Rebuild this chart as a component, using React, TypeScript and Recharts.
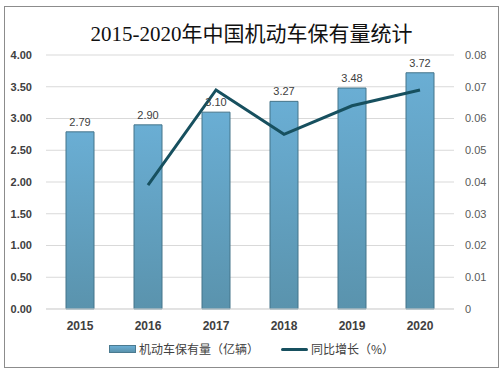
import {
  ComposedChart,
  Bar,
  Line,
  XAxis,
  YAxis,
  CartesianGrid,
  LabelList,
} from "recharts";

const years = ["2015", "2016", "2017", "2018", "2019", "2020"];
const vehicles = [2.79, 2.9, 3.1, 3.27, 3.48, 3.72];
const growth = [null, 0.039, 0.069, 0.055, 0.064, 0.069];
const leftTicks = [0, 0.5, 1, 1.5, 2, 2.5, 3, 3.5, 4];
const rightTicks = [0, 0.01, 0.02, 0.03, 0.04, 0.05, 0.06, 0.07, 0.08];

const data = years.map((year, i) => ({
  year,
  vehicles: vehicles[i],
  growth: growth[i],
}));

const FONT = "'Liberation Sans', 'Noto Sans CJK SC', sans-serif";

const LegendBox = () => (
  <div
    style={{
      position: "absolute",
      left: 0,
      top: 340,
      width: 503,
      display: "flex",
      justifyContent: "center",
      alignItems: "center",
      fontFamily: "'Noto Sans CJK SC', sans-serif",
      fontSize: 12,
      color: "#404040",
      lineHeight: "18px",
    }}
  >
    <span
      style={{
        display: "inline-block",
        width: 25,
        height: 6,
        background: "linear-gradient(#6aaed4, #5a93ad)",
        border: "1px solid #4a7a90",
        marginRight: 3,
      }}
    />
    <span style={{ marginRight: 22 }}>机动车保有量（亿辆）</span>
    <span
      style={{
        display: "inline-block",
        width: 27,
        height: 3,
        background: "#17505f",
        borderRadius: 2,
        marginRight: 3,
      }}
    />
    <span>同比增长（%）</span>
  </div>
);

export default function App() {
  return (
    <div
      style={{
        position: "absolute",
        left: 0,
        top: 0,
        width: 503,
        height: 372,
        background: "#fff",
      }}
    >
      <div
        style={{
          position: "absolute",
          left: 4,
          top: 6,
          width: 493,
          height: 360,
          border: "1px solid #8c8c8c",
        }}
      />
      <div
        style={{
          position: "absolute",
          left: 0,
          top: 17,
          width: 503,
          textAlign: "center",
          fontFamily: "'Liberation Serif', 'Noto Sans CJK SC', serif",
          fontSize: 21,
          color: "#111",
        }}
      >
        2015-2020年中国机动车保有量统计
      </div>
      <ComposedChart
        width={503}
        height={372}
        data={data}
        margin={{ top: 55, right: 0, bottom: 38, left: 6 }}
        style={{ position: "absolute", left: 0, top: 0 }}
      >
        <defs>
          <linearGradient id="barGrad" x1="0" y1="0" x2="0" y2="1">
            <stop offset="0%" stopColor="#6aaed4" />
            <stop offset="100%" stopColor="#5a93ad" />
          </linearGradient>
        </defs>
        <CartesianGrid vertical={false} stroke="#d9d9d9" yAxisId="left" />
        <XAxis
          dataKey="year"
          axisLine={{ stroke: "#d9d9d9" }}
          tickLine={false}
          height={25}
          tickMargin={6}
          tick={{ fontSize: 12, fontWeight: "bold", fill: "#404040", fontFamily: FONT }}
        />
        <YAxis
          yAxisId="left"
          domain={[0, 4]}
          ticks={leftTicks}
          width={40}
          axisLine={false}
          tickLine={false}
          tickMargin={8}
          tickFormatter={(v: number) => v.toFixed(2)}
          tick={{ fontSize: 11, fontWeight: "bold", fill: "#404040", fontFamily: FONT }}
        />
        <YAxis
          yAxisId="right"
          orientation="right"
          domain={[0, 0.08]}
          ticks={rightTicks}
          width={49}
          axisLine={false}
          tickLine={false}
          tickMargin={5}
          tickFormatter={(v: number) => (v === 0 ? "0" : v.toFixed(2))}
          tick={{ fontSize: 11, fill: "#595959", fontFamily: FONT }}
        />
        <Bar
          yAxisId="left"
          dataKey="vehicles"
          barSize={28}
          fill="url(#barGrad)"
          stroke="#45748a"
          strokeWidth={1}
          isAnimationActive={false}
        >
          <LabelList
            dataKey="vehicles"
            position="top"
            offset={6}
            formatter={(v: number) => v.toFixed(2)}
            style={{ fontSize: 11, fill: "#404040", fontFamily: FONT }}
          />
        </Bar>
        <Line
          yAxisId="right"
          dataKey="growth"
          stroke="#17505f"
          strokeWidth={3}
          dot={false}
          activeDot={false}
          connectNulls={false}
          isAnimationActive={false}
        />
      </ComposedChart>
      <LegendBox />
    </div>
  );
}
